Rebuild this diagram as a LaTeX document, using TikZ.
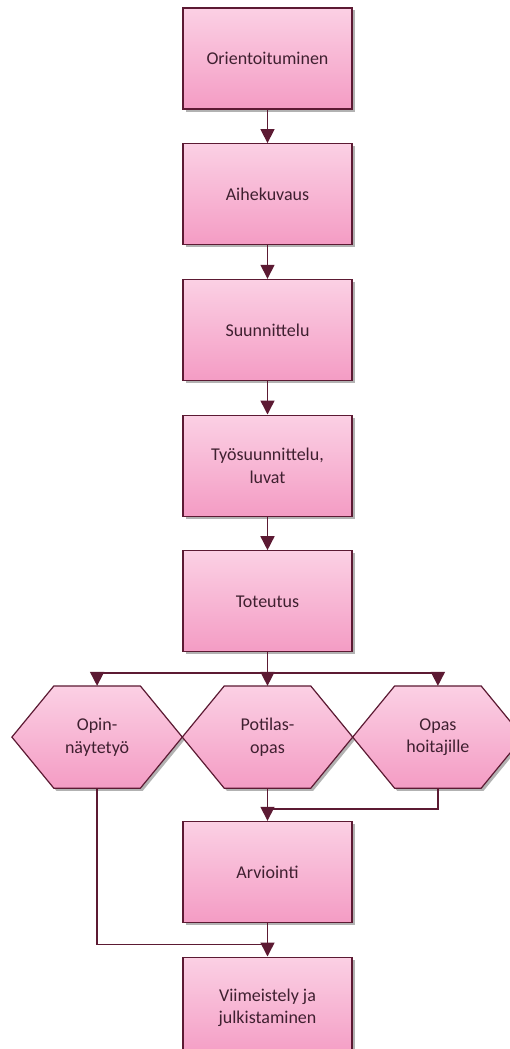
\documentclass[tikz,border=0pt]{standalone}
\usepackage{fontspec}
\setmainfont{Carlito}
\usetikzlibrary{positioning, shadows, arrows.meta, backgrounds}

\definecolor{rim}{HTML}{5C1A33}
\definecolor{pinklt}{HTML}{FBD0E4}
\definecolor{pinkdk}{HTML}{F49CC4}
\definecolor{txt}{HTML}{3F2030}

\tikzset{
  stage/.style={draw=rim, line width=1.2pt, top color=pinklt, bottom color=pinkdk,
    minimum width=169pt, minimum height=101pt, text=txt, align=center,
    drop shadow={shadow xshift=2.5pt, shadow yshift=-2.5pt, fill=black, opacity=.3}},
  prod/.style={minimum width=170pt, minimum height=102pt, inner sep=0pt, text=txt, align=center},
  link/.style={draw=rim, line width=1.5pt}
}

\begin{document}
\begin{tikzpicture}[>={Triangle[width=14pt,length=14pt]}, node distance=33.5pt,
  font=\fontsize{18}{22.5}\selectfont]
\useasboundingbox (0,0) rectangle (510pt,-1049pt);
\clip (0,0) rectangle (510pt,-1049pt);

\node[stage] (ori) at (267.5pt,-58.5pt) {Orientoituminen};
\node[stage, below = of ori] (aihe) {Aihekuvaus};
\node[stage, below = of aihe] (suun) {Suunnittelu};
\node[stage, below = of suun] (tyo) {Työsuunnittelu,\\luvat};
\node[stage, below = of tyo] (tot) {Toteutus};

\node[prod, below = of tot] (pot) {Potilas-\\opas};
\node[prod, left = 0pt of pot] (opin) {Opin-\\näytetyö};
\node[prod, right = 0pt of pot] (opas) {Opas\\hoitajille};

\node[stage, below = 32.5pt of pot] (arv) {Arviointi};
\node[stage, below = of arv] (viim) {Viimeistely ja\\julkistaminen};

% hexagons
\begin{scope}[on background layer]
\foreach \n in {opin, pot, opas}
  \draw[link, line width=1.2pt, top color=pinklt, bottom color=pinkdk,
    drop shadow={shadow xshift=2.5pt, shadow yshift=-2.5pt, fill=black, opacity=.3}]
    (\n.west) -- ([xshift=42pt] \n.north west) -- ([xshift=-42pt] \n.north east)
    -- (\n.east) -- ([xshift=-42pt] \n.south east) -- ([xshift=42pt] \n.south west) -- cycle;
\end{scope}

\draw[link, ->] (ori) -- (aihe);
\draw[link, ->] (aihe) -- (suun);
\draw[link, ->] (suun) -- (tyo);
\draw[link, ->] (tyo) -- (tot);

\coordinate[above = 13pt of pot.north] (split);
\draw[link, ->] (tot) -- (pot);
\draw[link] (split -| opin) -- (split -| opas);
\draw[link, ->] (split -| opin) -- (opin);
\draw[link, ->] (split -| opas) -- (opas);

\coordinate[above = 12pt of arv.north] (merge1);
\coordinate[above = 12pt of viim.north] (merge2);
\draw[link, ->] (pot) -- (arv);
\draw[link] (opas) |- (merge1);
\draw[link, ->] (arv) -- (viim);
\draw[link] (opin) |- (merge2);
\end{tikzpicture}
\end{document}
